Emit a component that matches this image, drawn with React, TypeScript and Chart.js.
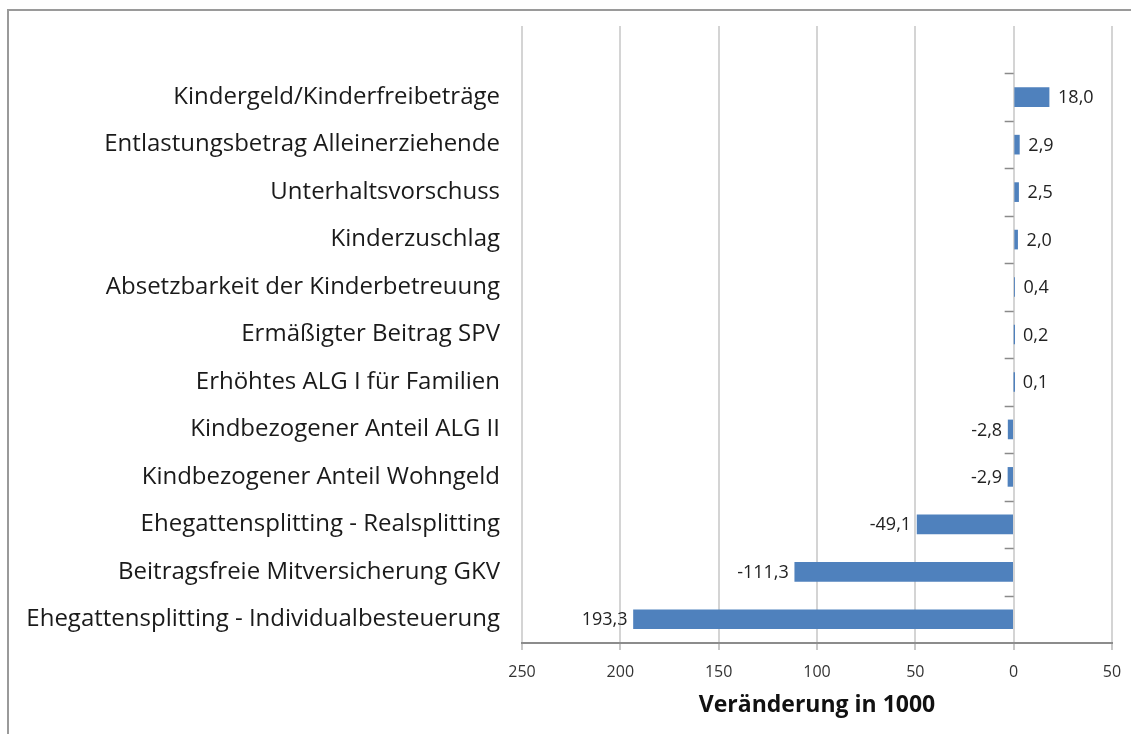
import React, { useEffect, useRef } from "react";
import { Chart, registerables } from "chart.js";

Chart.register(...registerables);

const categories = [
  "",
  "Kindergeld/Kinderfreibeträge",
  "Entlastungsbetrag Alleinerziehende",
  "Unterhaltsvorschuss",
  "Kinderzuschlag",
  "Absetzbarkeit der Kinderbetreuung",
  "Ermäßigter Beitrag SPV",
  "Erhöhtes ALG I für Familien",
  "Kindbezogener Anteil ALG II",
  "Kindbezogener Anteil Wohngeld",
  "Ehegattensplitting - Realsplitting",
  "Beitragsfreie Mitversicherung GKV",
  "Ehegattensplitting - Individualbesteuerung",
];

const values: (number | null)[] = [null, 18.0, 2.9, 2.5, 2.0, 0.4, 0.2, 0.1, -2.8, -2.9, -49.1, -111.3, -193.3];

const valueLabels = ["", "18,0", "2,9", "2,5", "2,0", "0,4", "0,2", "0,1", "-2,8", "-2,9", "-49,1", "-111,3", "193,3"];

const xMin = -250;
const xMax = 50;
const xStep = 50;

const FONT = "'Open Sans', 'Noto Sans', sans-serif";

const framePlugin = {
  id: "frame",
  beforeDraw(chart: any) {
    const ctx = chart.ctx;
    ctx.save();
    ctx.strokeStyle = "#9a9a9a";
    ctx.lineWidth = 2;
    ctx.beginPath();
    ctx.moveTo(8, chart.height);
    ctx.lineTo(8, 10);
    ctx.lineTo(chart.width, 10);
    ctx.stroke();
    ctx.restore();
  },
};

const catTicksPlugin = {
  id: "catTicks",
  afterDatasetsDraw(chart: any) {
    const ctx = chart.ctx;
    const xs = chart.scales.x;
    const ys = chart.scales.y;
    const x0 = xs.getPixelForValue(0);
    const n = categories.length;
    const band = (ys.bottom - ys.top) / n;
    ctx.save();
    ctx.strokeStyle = "#8a8a8a";
    ctx.lineWidth = 1.5;
    for (let i = 1; i < n; i++) {
      const y = Math.round(ys.getPixelForValue(i) - band / 2) + 0.5;
      ctx.beginPath();
      ctx.moveTo(x0 - 9, y);
      ctx.lineTo(x0, y);
      ctx.stroke();
    }
    ctx.fillStyle = "#222";
    ctx.font = `18px ${FONT}`;
    ctx.textBaseline = "middle";
    const meta = chart.getDatasetMeta(0);
    meta.data.forEach((bar: any, i: number) => {
      const v = values[i];
      if (v === null) return;
      const y = bar.y + 1;
      if (v >= 0) {
        ctx.textAlign = "left";
        ctx.fillText(valueLabels[i], Math.max(bar.x, x0) + 9, y);
      } else {
        ctx.textAlign = "right";
        ctx.fillText(valueLabels[i], bar.x - 6, y);
      }
    });
    ctx.restore();
  },
};

export default function App() {
  const ref = useRef<HTMLCanvasElement>(null);
  useEffect(() => {
    if (!ref.current) return;
    const chart = new Chart(ref.current, {
      type: "bar",
      data: {
        labels: categories,
        datasets: [
          {
            data: values as any,
            backgroundColor: "#4f81bd",
            borderWidth: 0,
            barThickness: 19,
          },
        ],
      },
      options: {
        indexAxis: "y",
        animation: false,
        responsive: false,
        layout: { padding: { top: 26, right: 19, left: 0, bottom: 15 } },
        plugins: { legend: { display: false }, tooltip: { enabled: false } },
        scales: {
          x: {
            min: xMin,
            max: xMax,
            ticks: {
              stepSize: xStep,
              callback: (v: any) => String(Math.abs(Number(v))),
              font: { family: FONT, size: 16 },
              color: "#333",
              padding: 13,
            },
            grid: { color: "#d4d4d4", lineWidth: 2, tickLength: 7, tickColor: "#c8c8c8" },
            border: { display: true, color: "#8c8c8c", width: 2 },
            title: {
              display: true,
              text: "Veränderung in 1000",
              font: { family: FONT, size: 23, weight: "bold" },
              color: "#111",
              padding: { top: 4, bottom: 0 },
            },
            afterFit: (scale: any) => {
              scale.height = 719 - 643;
              scale.paddingLeft = 0;
              scale.paddingRight = 0;
            },
          },
          y: {
            grid: { display: false, drawTicks: false },
            border: { display: false },
            ticks: {
              font: { family: FONT, size: 24 },
              color: "#1a1a1a",
              padding: 22,
              autoSkip: false,
            },
            afterFit: (scale: any) => {
              scale.width = 522;
              scale.paddingTop = 0;
              scale.paddingBottom = 0;
            },
          },
        },
      },
      plugins: [framePlugin, catTicksPlugin],
    });
    return () => chart.destroy();
  }, []);
  return (
    <div style={{ position: "fixed", left: 0, top: 0, width: 1131, height: 734, overflow: "hidden", background: "#fff" }}>
      <canvas ref={ref} width={1131} height={734} style={{ display: "block" }} />
    </div>
  );
}
